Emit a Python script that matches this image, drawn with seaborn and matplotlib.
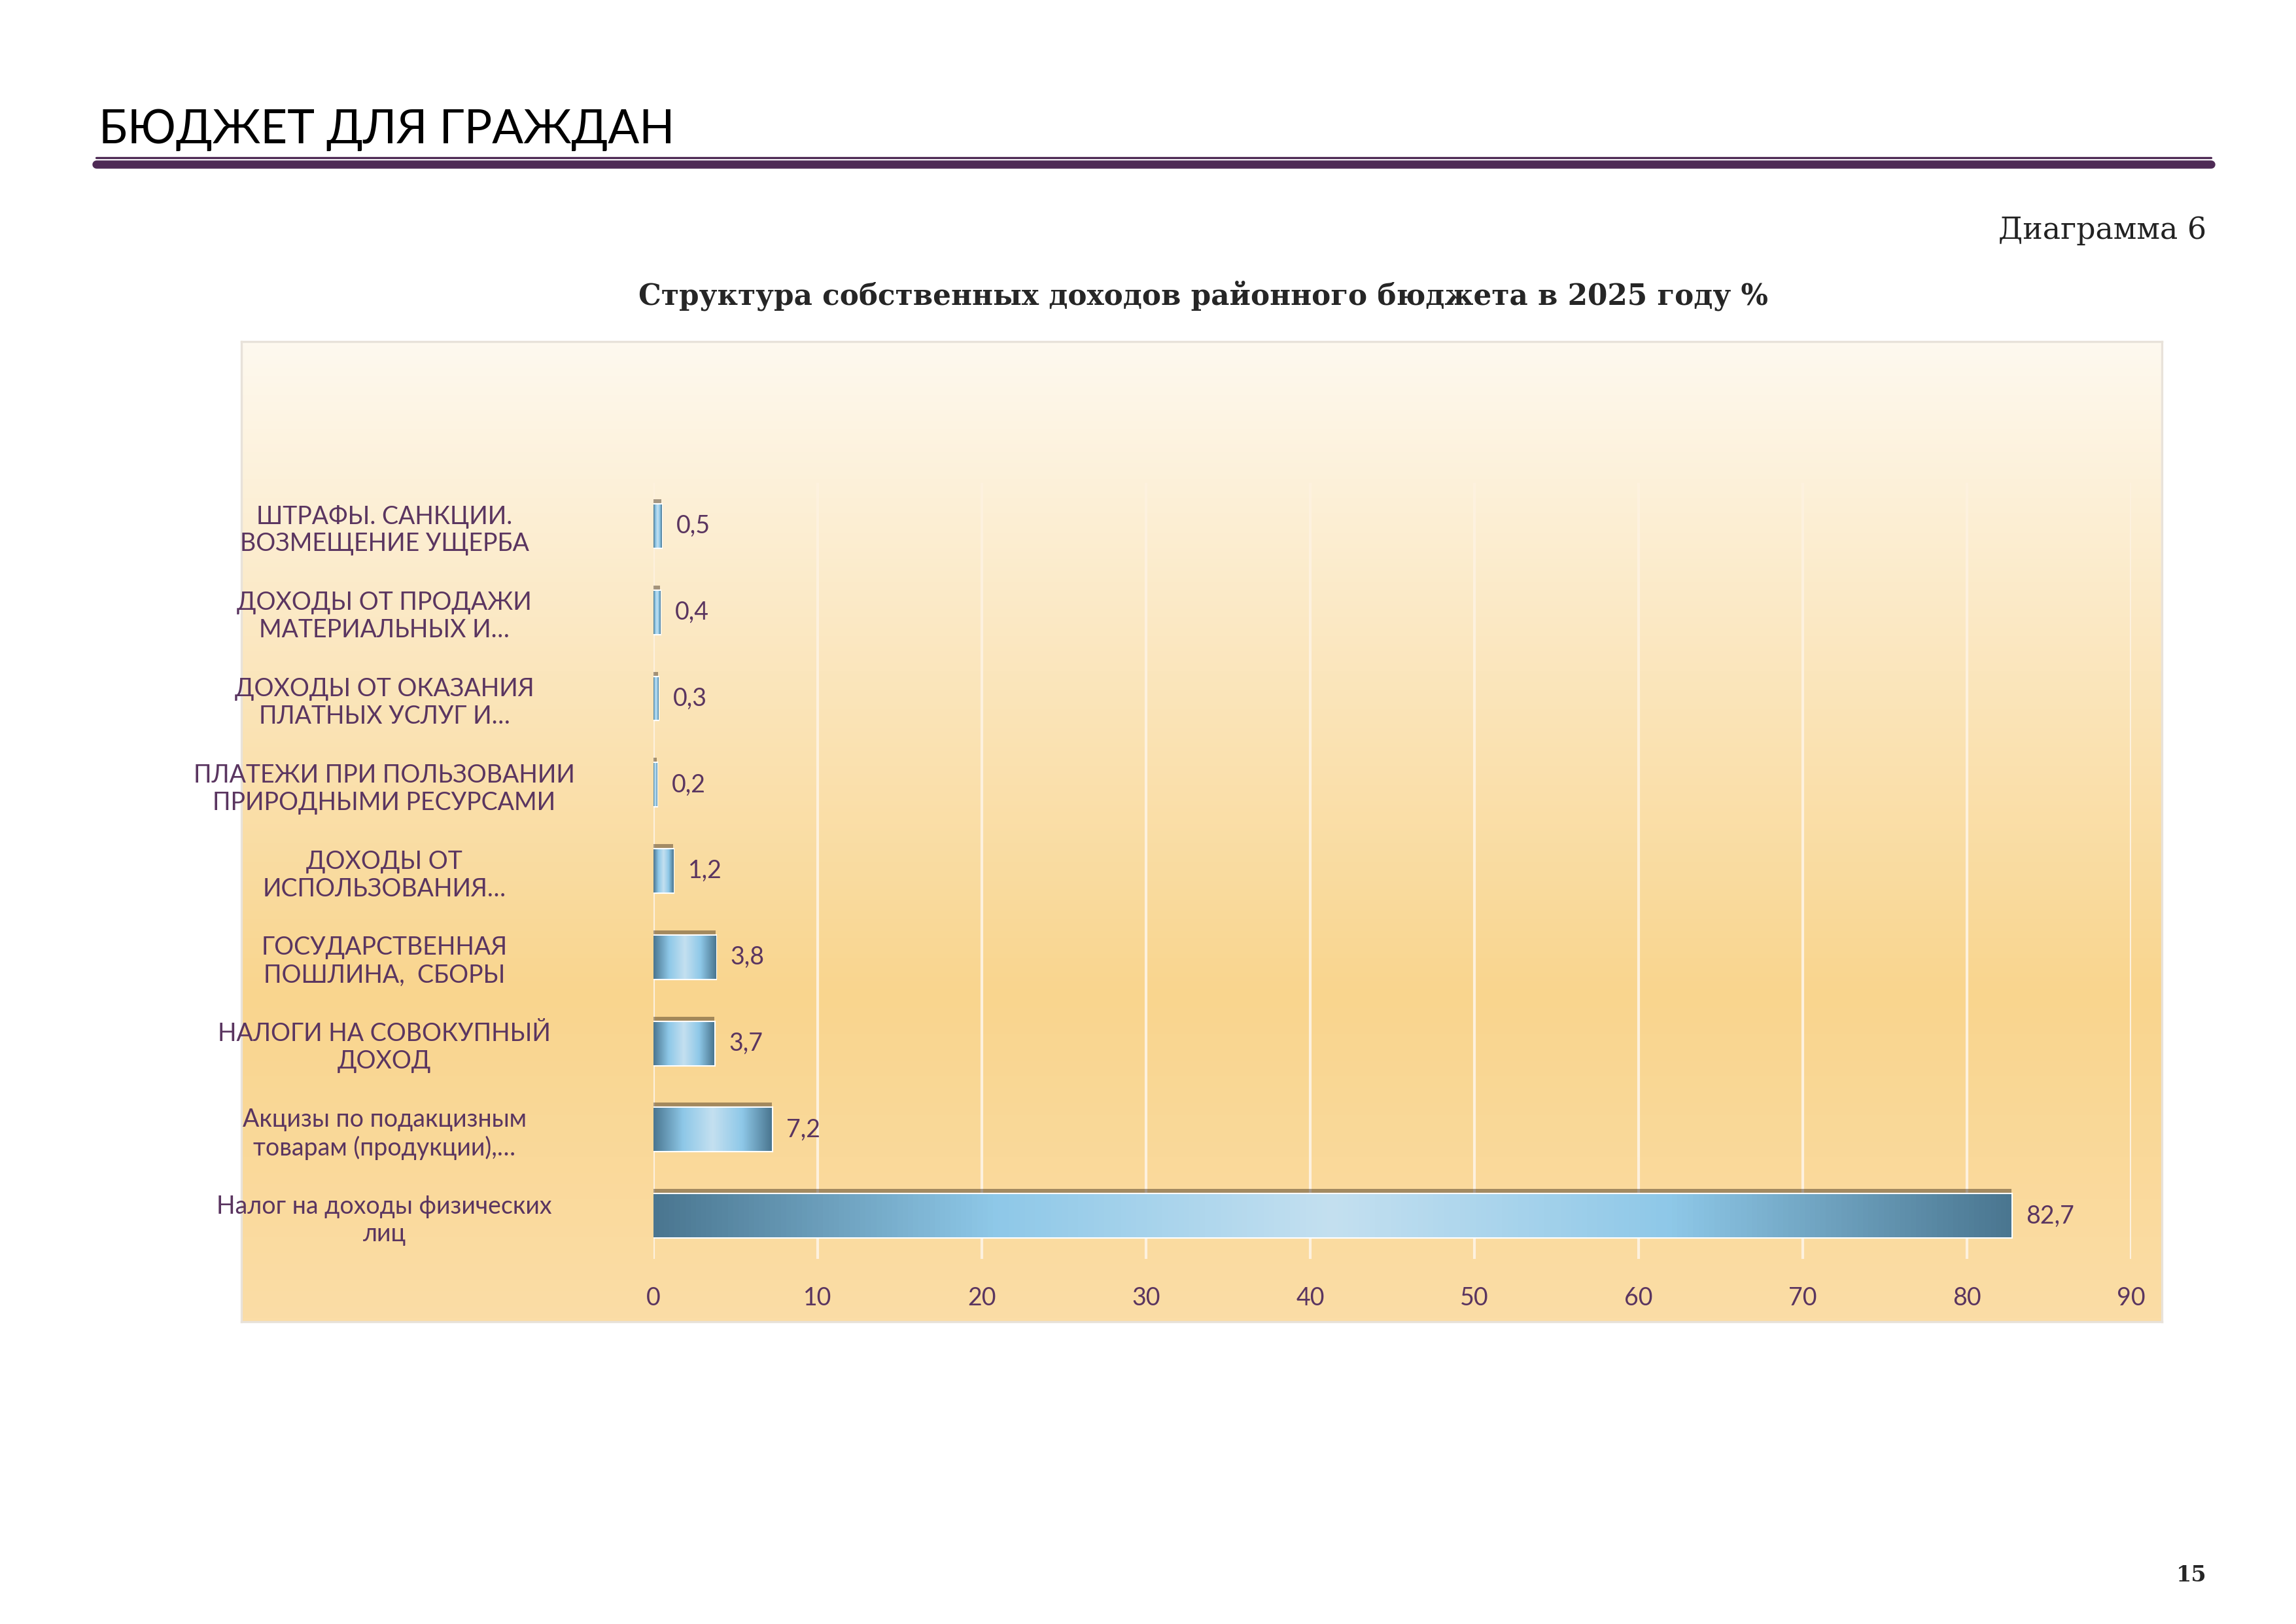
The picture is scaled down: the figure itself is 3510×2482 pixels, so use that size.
import numpy as np
import pandas as pd
import matplotlib.pyplot as plt
import seaborn as sns
from matplotlib.colors import LinearSegmentedColormap
from matplotlib.patches import Rectangle

categories = [
    'ШТРАФЫ. САНКЦИИ.\nВОЗМЕЩЕНИЕ УЩЕРБА',
    'ДОХОДЫ ОТ ПРОДАЖИ\nМАТЕРИАЛЬНЫХ И…',
    'ДОХОДЫ ОТ ОКАЗАНИЯ\nПЛАТНЫХ УСЛУГ И…',
    'ПЛАТЕЖИ ПРИ ПОЛЬЗОВАНИИ\nПРИРОДНЫМИ РЕСУРСАМИ',
    'ДОХОДЫ ОТ\nИСПОЛЬЗОВАНИЯ…',
    'ГОСУДАРСТВЕННАЯ\nПОШЛИНА,  СБОРЫ',
    'НАЛОГИ НА СОВОКУПНЫЙ\nДОХОД',
    'Акцизы по подакцизным\nтоварам (продукции),…',
    'Налог на доходы физических\nлиц',
]
values = [0.5, 0.4, 0.3, 0.2, 1.2, 3.8, 3.7, 7.2, 82.7]
value_labels = ['0,5', '0,4', '0,3', '0,2', '1,2', '3,8', '3,7', '7,2', '82,7']

df = pd.DataFrame({'cat': categories, 'val': values})

sns.set_style('white')
plt.rcParams['font.family'] = ['Lato', 'DejaVu Sans']

fig = plt.figure(figsize=(11.7, 8.274), dpi=300)
purple = '#4e2a55'
label_col = '#5a3560'

# header
fig.text(0.043, 0.907, 'БЮДЖЕТ ДЛЯ ГРАЖДАН', fontsize=17, color='black', va='bottom')
fig.add_artist(plt.Line2D([0.042, 0.963], [0.903, 0.903], color=purple, lw=0.8))
fig.add_artist(plt.Line2D([0.042, 0.963], [0.899, 0.899], color=purple, lw=3))
fig.text(0.961, 0.858, 'Диаграмма 6', fontsize=11, family='DejaVu Serif', ha='right', va='center', color='#222222')
fig.text(0.524, 0.818, 'Структура собственных доходов районного бюджета в 2025 году %',
         fontsize=10.5, family='DejaVu Serif', weight='bold', ha='center', va='center')
fig.text(0.961, 0.030, '15', fontsize=8, family='DejaVu Serif', weight='bold', ha='right', va='center')

# panel with vertical gradient
bg = fig.add_axes([0.105, 0.186, 0.8367, 0.6037], zorder=0)
bgcmap = LinearSegmentedColormap.from_list('bg', ['#fef9ef', '#fbe6bd', '#f9d58e', '#fbdda6'])
bg.imshow(np.linspace(0, 1, 256).reshape(-1, 1), aspect='auto', cmap=bgcmap, extent=[0, 1, 0, 1])
bg.set_xticks([]); bg.set_yticks([])
for s in bg.spines.values():
    s.set_color('#e8e2da'); s.set_linewidth(0.8)

ax = fig.add_axes([0.2846, 0.2248, 0.6436, 0.4778], zorder=1)
ax.patch.set_alpha(0)
sns.barplot(data=df, x='val', y='cat', orient='h', width=0.5, color='#8ec8e8', ax=ax, zorder=3)
ax.set_xlim(0, 90)
ax.set_xticks(range(0, 91, 10))
ax.xaxis.grid(True, color='#fdf1de', lw=1)
ax.set_axisbelow(True)
for s in ax.spines.values():
    s.set_visible(False)
ax.set_xlabel(''); ax.set_ylabel('')
ax.tick_params(axis='x', length=0, labelsize=9, colors=label_col, pad=10)
ax.tick_params(axis='y', length=0, labelsize=9, colors=label_col, pad=12)
for t in ax.get_yticklabels():
    t.set_horizontalalignment('center')
    t.set_x(-0.16)

barcmap = LinearSegmentedColormap.from_list('bar', ['#4a7690', '#8ec8e8', '#c4e0f0', '#8ec8e8', '#4a7690'])
grad = np.linspace(0, 1, 256).reshape(1, -1)
for p, lab in zip(ax.patches, value_labels):
    x0, y0, w, h = p.get_x(), p.get_y(), p.get_width(), p.get_height()
    shadow = Rectangle((x0, y0 - 0.06), w, h, color='#3a2a1a', alpha=0.45, zorder=2, lw=0)
    ax.add_patch(shadow)
    im = ax.imshow(grad, aspect='auto', cmap=barcmap, extent=[x0, x0 + w, y0 + h, y0], zorder=4)
    im.set_clip_path(p)
    ax.text(x0 + w + 0.9, y0 + h / 2, lab, va='center', ha='left', fontsize=9, color=label_col)
ax.set_ylim(len(values) - 0.5, -0.5)
ax.set_xlim(0, 90)

plt.savefig('out.png', dpi=300)
